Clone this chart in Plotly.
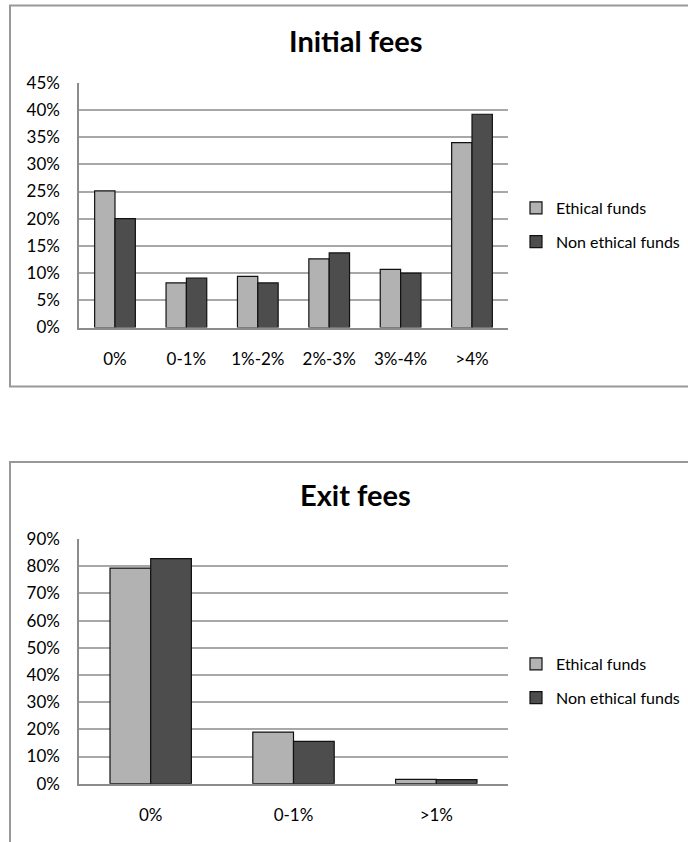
import plotly.graph_objects as go

# Share of funds by fee bracket (percent)
initial_categories = ["0%", "0-1%", "1%-2%", "2%-3%", "3%-4%", ">4%"]
initial_ethical = [25.1, 8.2, 9.4, 12.6, 10.7, 34.0]
initial_non_ethical = [20.0, 9.1, 8.2, 13.7, 10.0, 39.2]

exit_categories = ["0%", "0-1%", ">1%"]
exit_ethical = [79.3, 19.0, 1.6]
exit_non_ethical = [82.8, 15.6, 1.5]

series_names = ["Ethical funds", "Non ethical funds"]

W, H = 688, 842
LIGHT = "#b2b2b2"
DARK = "#4d4d4d"
GRID = "#a8a8a8"
AXIS = "#8c8c8c"
FONT = "Lato"


def px_x(x):
    return x / W


def px_y(y):
    return 1 - y / H


fig = go.Figure()

fig.add_trace(go.Bar(
    x=initial_categories, y=initial_ethical, name=series_names[0],
    marker=dict(color=LIGHT, line=dict(color="#111", width=1.2)),
    xaxis="x", yaxis="y", legend="legend", legendgroup="a",
))
fig.add_trace(go.Bar(
    x=initial_categories, y=initial_non_ethical, name=series_names[1],
    marker=dict(color=DARK, line=dict(color="#111", width=1.2)),
    xaxis="x", yaxis="y", legend="legend", legendgroup="b",
))
fig.add_trace(go.Bar(
    x=exit_categories, y=exit_ethical, name=series_names[0],
    marker=dict(color=LIGHT, line=dict(color="#111", width=1.2)),
    xaxis="x2", yaxis="y2", legend="legend2", legendgroup="c",
))
fig.add_trace(go.Bar(
    x=exit_categories, y=exit_non_ethical, name=series_names[1],
    marker=dict(color=DARK, line=dict(color="#111", width=1.2)),
    xaxis="x2", yaxis="y2", legend="legend2", legendgroup="d",
))

x_dom = [px_x(79.3), px_x(507.7)]

common_x = dict(
    showgrid=False, showline=True, linecolor=AXIS, linewidth=2,
    ticks="", tickfont=dict(family=FONT, size=17, color="#000"),
    ticklabelstandoff=15, fixedrange=True, automargin=False,
)
common_y = dict(
    showgrid=True, gridcolor=GRID, gridwidth=1.5,
    showline=True, linecolor=AXIS, linewidth=2,
    zeroline=False, ticks="", ticksuffix="%",
    tickfont=dict(family=FONT, size=17, color="#000"),
    ticklabelstandoff=14, fixedrange=True, automargin=False,
)

legend_style = dict(
    font=dict(family=FONT, size=16, color="#000"),
    bgcolor="rgba(0,0,0,0)", traceorder="grouped", tracegroupgap=10,
    itemwidth=30, xanchor="left", yanchor="middle",
)

fig.update_layout(
    width=W, height=H,
    margin=dict(l=0, r=0, t=0, b=0, autoexpand=False),
    paper_bgcolor="white", plot_bgcolor="white",
    barmode="group", bargap=0.43, bargroupgap=0,
    font=dict(family=FONT, color="#000"),
    showlegend=True,
    xaxis=dict(domain=x_dom, anchor="y", **common_x),
    yaxis=dict(domain=[px_y(327.5), px_y(82.7)], anchor="x",
               range=[0, 45], dtick=5, **common_y),
    xaxis2=dict(domain=x_dom, anchor="y2", **common_x),
    yaxis2=dict(domain=[px_y(783.7), px_y(539)], anchor="x2",
                range=[0, 90], dtick=10, **common_y),
    legend=dict(x=px_x(516), y=px_y(225), **legend_style),
    legend2=dict(x=px_x(516), y=px_y(681), **legend_style),
    annotations=[
        dict(text="<b>Initial fees</b>", x=px_x(355), y=px_y(40),
             xref="paper", yref="paper", xanchor="center", yanchor="middle",
             showarrow=False, font=dict(family=FONT, size=29, color="#000")),
        dict(text="<b>Exit fees</b>", x=px_x(355), y=px_y(495),
             xref="paper", yref="paper", xanchor="center", yanchor="middle",
             showarrow=False, font=dict(family=FONT, size=29, color="#000")),
    ],
    shapes=[
        dict(type="rect", xref="paper", yref="paper",
             x0=px_x(10), x1=px_x(700), y0=px_y(386.5), y1=px_y(5.5),
             line=dict(color="#999999", width=2), fillcolor="rgba(0,0,0,0)"),
        dict(type="rect", xref="paper", yref="paper",
             x0=px_x(10), x1=px_x(700), y0=px_y(860), y1=px_y(462),
             line=dict(color="#999999", width=2), fillcolor="rgba(0,0,0,0)"),
    ],
)

fig.write_html("out.html")
